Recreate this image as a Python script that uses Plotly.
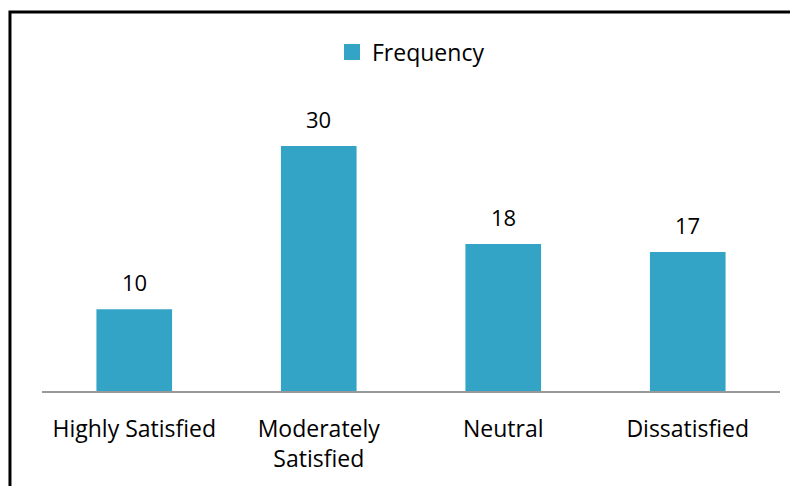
import plotly.graph_objects as go

categories = ["Highly Satisfied", "Moderately<br>Satisfied", "Neutral", "Dissatisfied"]
frequency = [10, 30, 18, 17]
series_name = "Frequency"

FONT = "Open Sans"
BAR_COLOR = "#33A3C6"

fig = go.Figure()
fig.add_trace(go.Bar(
    x=categories, y=frequency, name=series_name,
    marker=dict(color=BAR_COLOR, line=dict(width=0)),
    width=0.41, showlegend=False,
))
# legend entry with a larger square swatch
fig.add_trace(go.Scatter(
    x=[None], y=[None], mode="markers", name=series_name,
    marker=dict(symbol="square", size=16, color=BAR_COLOR),
))

for c, v in zip(categories, frequency):
    fig.add_annotation(x=c, y=v, text=str(v), showarrow=False,
                       yanchor="bottom", yshift=10,
                       font=dict(family=FONT, size=22, color="#000"))

fig.add_shape(type="rect", xref="paper", yref="paper",
              x0=-0.0434, x1=1.2, y0=-0.6, y1=1.2187,
              line=dict(color="#000", width=3), layer="above")

fig.update_layout(
    width=798, height=486,
    margin=dict(l=34, r=26, t=72, b=103),
    paper_bgcolor="white", plot_bgcolor="white",
    font=dict(family=FONT, size=23, color="#000"),
    showlegend=True,
    legend=dict(orientation="h", x=0.5, xanchor="center", y=1.09, yanchor="middle",
                font=dict(size=23), itemwidth=30),
    xaxis=dict(showline=True, linecolor="#999", linewidth=2, showgrid=False,
               ticks="", tickfont=dict(size=23), ticklabelstandoff=16),
    yaxis=dict(range=[0, 38.07], visible=False, showgrid=False, zeroline=False),
    bargap=0.59,
)

fig.write_html("out.html")
